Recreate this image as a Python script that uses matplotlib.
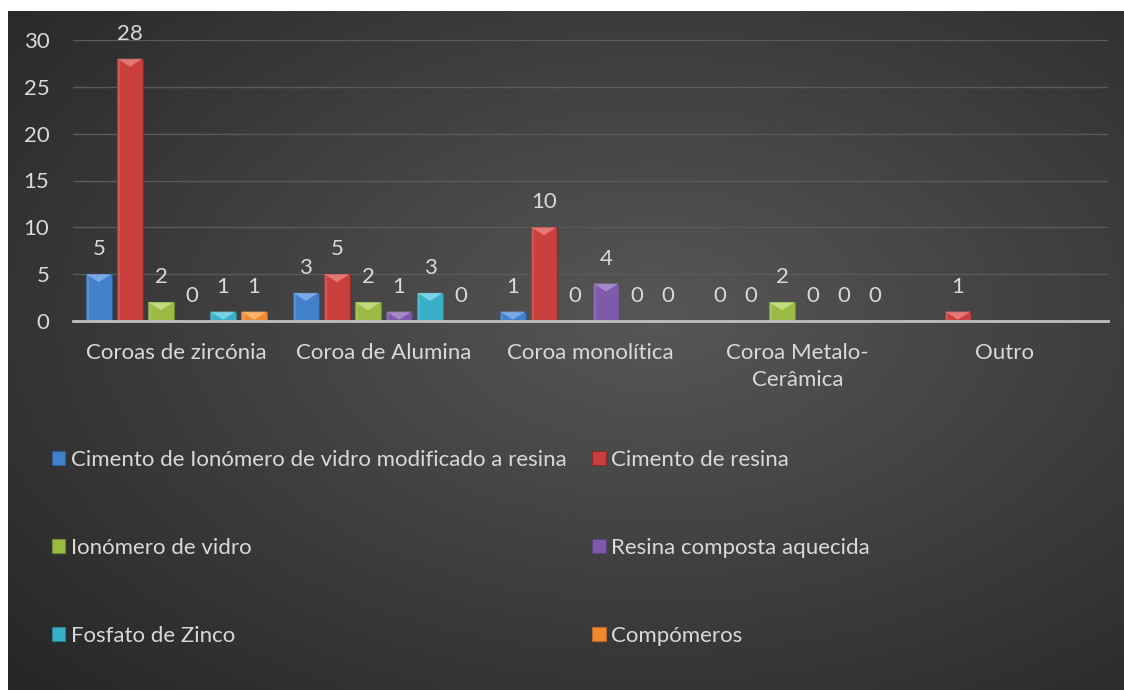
import matplotlib
matplotlib.use("Agg")
import matplotlib.pyplot as plt
import numpy as np

plt.rcParams['font.family'] = ['Lato', 'DejaVu Sans']

# data
categories = ["Coroas de zircónia", "Coroa de Alumina", "Coroa monolítica",
              "Coroa Metalo-\nCerâmica", "Outro"]
series_names = ["Cimento de Ionómero de vidro modificado a resina",
                "Cimento de resina",
                "Ionómero de vidro",
                "Resina composta aquecida",
                "Fosfato de Zinco",
                "Compómeros"]
ionomero_modificado = [5, 3, 1, 0, np.nan]
cimento_resina = [28, 5, 10, 0, 1]
ionomero_vidro = [2, 2, 0, 2, np.nan]
resina_aquecida = [0, 1, 4, 0, np.nan]
fosfato_zinco = [1, 3, 0, 0, np.nan]
compomeros = [1, 0, 0, 0, np.nan]
all_series = [ionomero_modificado, cimento_resina, ionomero_vidro,
              resina_aquecida, fosfato_zinco, compomeros]
colors = ["#4280CC", "#C9403F", "#9BBB45", "#7F5AA8", "#3AB0C8", "#F08A30"]
dark_colors = ["#2c5a92", "#8c2a28", "#6f8c34", "#5a437a", "#2d7f96", "#c0651c"]
light_colors = ["#8fb8f0", "#f08a88", "#cfe890", "#b39ad6", "#8fe0f2", "#ffc080"]

text_col = "#d9d9d9"
fs = 16

fig = plt.figure(figsize=(11.24, 6.9), dpi=100)
fig.patch.set_facecolor("white")

# dark radial gradient panel
bg = fig.add_axes([8 / 1124, 0, 1 - 8 / 1124, (690 - 11) / 690])
yy, xx = np.mgrid[0:1:300j, 0:1:480j]
r = np.sqrt(((xx - 0.58) / 0.75) ** 2 + ((yy - 0.45) / 0.75) ** 2)
shade = np.clip(0.34 - 0.18 * r, 0.15, 0.34)
bg.imshow(np.dstack([shade] * 3), aspect="auto", extent=[0, 1, 0, 1],
          interpolation="bilinear")
bg.axis("off")

ax = fig.add_axes([73 / 1124, 369 / 690, (1108 - 73) / 1124, (321 - 40) / 690])
ax.set_facecolor("none")

x = np.arange(len(categories))
step = 0.15
width = 0.122
n = len(all_series)

handles = []
for i, vals in enumerate(all_series):
    vals = np.array(vals, dtype=float)
    pos = x + (i - (n - 1) / 2) * step
    bars = ax.bar(pos, np.nan_to_num(vals), width, color=colors[i],
                  edgecolor=dark_colors[i], linewidth=0.8,
                  label=series_names[i], zorder=3)
    handles.append(bars)
    for b, v in zip(bars, vals):
        if np.isnan(v):
            continue
        if v > 0:
            x0 = b.get_x()
            x1 = x0 + b.get_width()
            d = min(0.85, v)
            ax.fill([x0, x1, (x0 + x1) / 2], [v, v, v - d],
                    color=light_colors[i], alpha=0.75, zorder=4, lw=0)
            ax.fill([x0, x0 + b.get_width() * 0.12, x0 + b.get_width() * 0.12, x0],
                    [0, 0, v, v], color="white", alpha=0.12, zorder=4, lw=0)
        ax.annotate(f"{int(v)}", (b.get_x() + b.get_width() / 2, v),
                    xytext=(0, 18), textcoords="offset points",
                    ha="center", va="center", fontsize=fs, color=text_col)

ax.set_xlim(-0.5, len(categories) - 0.5)
ax.set_ylim(0, 30)
ax.set_yticks(np.arange(0, 31, 5))
ax.set_xticks(x)
ax.set_xticklabels(categories, fontsize=fs, color=text_col, linespacing=1.4)
ax.tick_params(axis="y", colors=text_col, labelsize=fs, length=0, pad=17)
ax.tick_params(axis="x", length=0, pad=16)
ax.yaxis.grid(True, color="#5a5a5a", linewidth=1)
ax.set_axisbelow(True)
for s in ["top", "right", "left"]:
    ax.spines[s].set_visible(False)
ax.spines["bottom"].set_color("#bfbfbf")
ax.spines["bottom"].set_linewidth(2)
ax.spines["bottom"].set_zorder(5)

# legend filled row by row like the original
order = [0, 2, 4, 1, 3, 5]
leg = fig.legend([handles[k] for k in order], [series_names[k] for k in order],
                 loc="upper left", bbox_to_anchor=(52 / 1124, 1 - 450 / 690),
                 ncol=2, frameon=False, fontsize=fs, labelcolor=text_col,
                 borderpad=0, borderaxespad=0,
                 handlelength=0.6, handleheight=0.6, handletextpad=0.25,
                 columnspacing=1.15, labelspacing=3.05)

fig.savefig("out.png", dpi=100)
